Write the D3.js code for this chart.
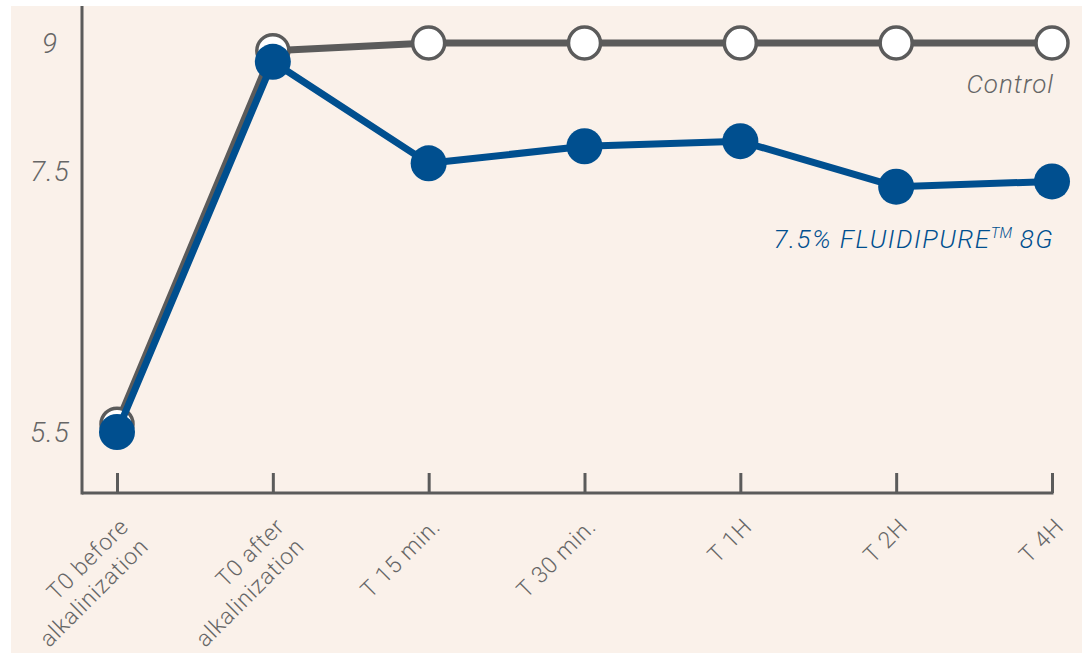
<!DOCTYPE html>
<html>
<head>
<meta charset="utf-8">
<script src="https://cdn.jsdelivr.net/npm/d3@7"></script>
<style>
  html, body { margin: 0; padding: 0; background: #ffffff; }
  svg { display: block; }
  text { font-family: "Roboto", "Liberation Sans", sans-serif; }
</style>
</head>
<body>
<svg id="chart" width="1082" height="653"></svg>
<script>
// ---- data ----
const categories = ["T0 before\nalkalinization", "T0 after\nalkalinization", "T 15 min.", "T 30 min.", "T 1H", "T 2H", "T 4H"];
const controlValues = [5.56, 8.91, 9, 9, 9, 9, 9];
const fluidipureValues = [5.5, 8.78, 7.59, 7.79, 7.85, 7.38, 7.42];
const yTickValues = [5.5, 7.5, 9];
const seriesNames = ["Control", "7.5% FLUIDIPURE", "TM", " 8G"];

// ---- layout ----
const W = 1082, H = 653;
const axisX = 82, axisY = 493, axisRight = 1052;
const grey = "#5b5b5b", blue = "#004f8f", bg = "#faf1ea";

const svg = d3.select("#chart");
svg.append("rect").attr("x", 11).attr("y", 6).attr("width", W - 11).attr("height", H - 6).attr("fill", bg);

const x = d3.scalePoint().domain(categories).range([117, axisRight]);
const y = d3.scaleLinear().domain([5.5, 7.5, 9]).range([432, 171, 43]);

// y axis labels
const yAxis = svg.append("g").attr("transform", `translate(${axisX},0)`)
  .call(d3.axisLeft(y).tickValues(yTickValues).tickSize(0).tickFormat(d3.format("")));
yAxis.select(".domain").remove();
yAxis.selectAll("text")
  .attr("x", -32).attr("dy", "0.35em").attr("text-anchor", "middle")
  .attr("font-size", 28).attr("font-style", "italic").attr("font-weight", 300)
  .attr("letter-spacing", 1)
  .attr("fill", "#666").attr("font-family", "Roboto, 'Liberation Sans', sans-serif");

// axis lines
svg.append("line").attr("x1", axisX).attr("x2", axisX).attr("y1", 6).attr("y2", axisY + 1.5)
  .attr("stroke", grey).attr("stroke-width", 3);
svg.append("line").attr("x1", axisX).attr("x2", axisRight + 1.5).attr("y1", axisY).attr("y2", axisY)
  .attr("stroke", grey).attr("stroke-width", 3);

// x axis ticks
const xAxis = svg.append("g").attr("transform", `translate(0,${axisY})`)
  .call(d3.axisBottom(x).tickSize(-20).tickFormat(""));
xAxis.select(".domain").remove();
xAxis.selectAll(".tick line").attr("stroke", grey).attr("stroke-width", 3);

// x labels rotated
const xl = svg.append("g");
categories.forEach(c => {
  const lines = c.split("\n");
  const t = xl.append("text")
    .attr("transform", `translate(${x(c) + 13},${528}) rotate(-45)`)
    .attr("text-anchor", "end")
    .attr("font-size", 23).attr("font-weight", 300).attr("fill", "#666")
    .attr("letter-spacing", 0.8);
  lines.forEach((ln, i) => {
    t.append("tspan").attr("x", 0).attr("dy", i === 0 ? 0 : 28).text(ln);
  });
});

const line = d3.line().x((d, i) => x(categories[i])).y(d => y(d));

// control series
svg.append("path").datum(controlValues).attr("d", line)
  .attr("fill", "none").attr("stroke", grey).attr("stroke-width", 7).attr("stroke-linejoin", "round");
svg.append("g").selectAll("circle").data(controlValues).join("circle")
  .attr("cx", (d, i) => x(categories[i])).attr("cy", d => y(d)).attr("r", 16)
  .attr("fill", "#fff").attr("stroke", grey).attr("stroke-width", 3.5);

// fluidipure series
svg.append("path").datum(fluidipureValues).attr("d", line)
  .attr("fill", "none").attr("stroke", blue).attr("stroke-width", 7).attr("stroke-linejoin", "round");
svg.append("g").selectAll("circle").data(fluidipureValues).join("circle")
  .attr("cx", (d, i) => x(categories[i])).attr("cy", d => y(d)).attr("r", 18)
  .attr("fill", blue);

// series labels
svg.append("text").attr("x", 1054).attr("y", 93).attr("text-anchor", "end")
  .attr("font-size", 26).attr("font-style", "italic").attr("font-weight", 300).attr("fill", "#666")
  .attr("letter-spacing", 1)
  .text(seriesNames[0]);
const fl = svg.append("text").attr("x", 1054).attr("y", 248).attr("text-anchor", "end")
  .attr("font-size", 26).attr("font-style", "italic").attr("font-weight", 300).attr("fill", blue)
  .attr("letter-spacing", 1.5);
fl.append("tspan").text(seriesNames[1]);
fl.append("tspan").attr("font-size", 15).attr("dy", -10).attr("letter-spacing", 0).text(seriesNames[2]);
fl.append("tspan").attr("dy", 10).text(seriesNames[3]);
</script>
</body>
</html>
